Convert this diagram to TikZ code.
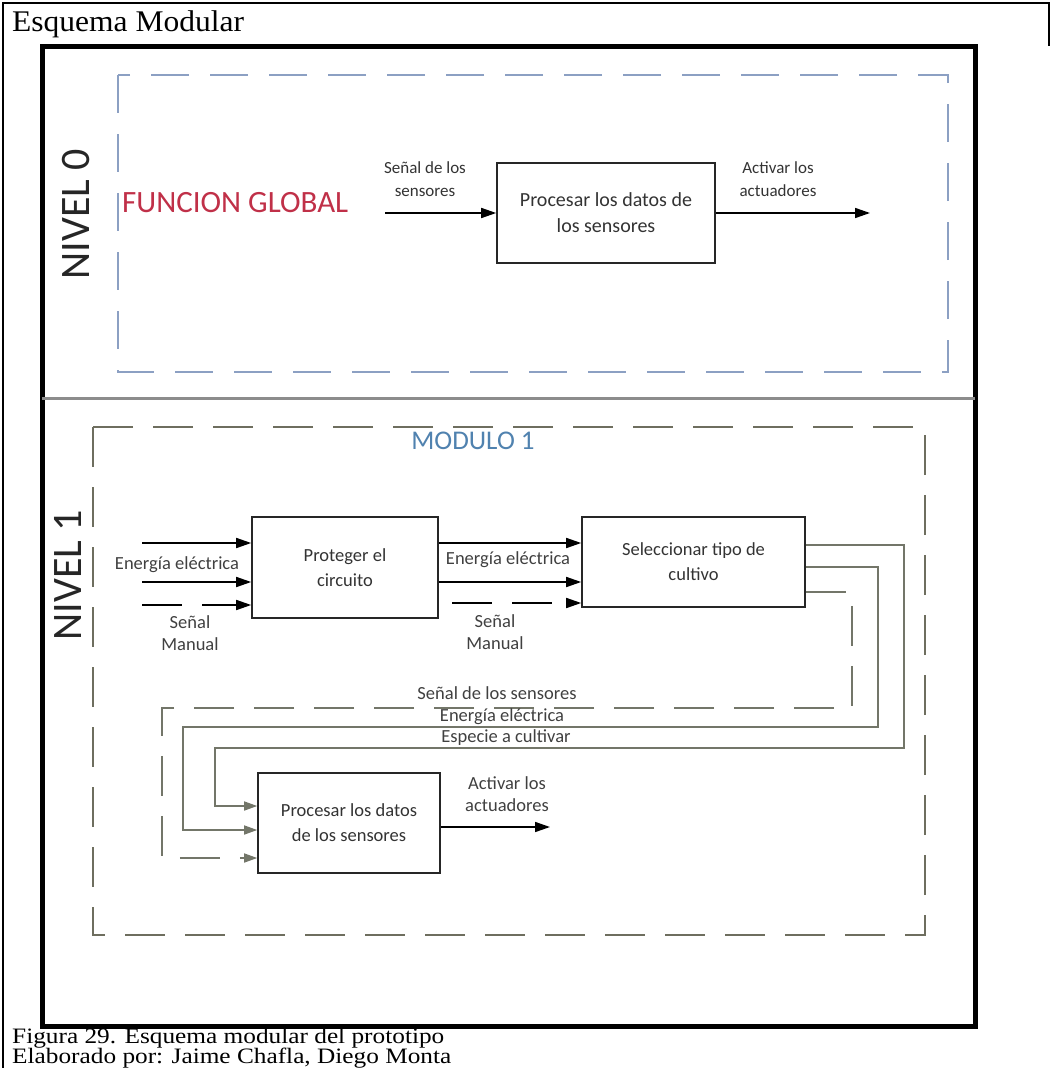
\documentclass[tikz,border=0pt]{standalone}
\usepackage{fontspec}
\setmainfont{Carlito}
\newfontfamily\titfont[FakeStretch=1.05]{Liberation Serif}
\newfontfamily\capfont[FakeStretch=1.15]{Liberation Serif}
\usetikzlibrary{arrows.meta}

\definecolor{azulgris}{RGB}{140,160,195}
\definecolor{olivo}{RGB}{110,110,95}
\definecolor{verdegris}{RGB}{115,118,105}
\definecolor{rojo}{RGB}{192,48,72}
\definecolor{azul}{RGB}{80,130,175}

\begin{document}
\begin{tikzpicture}[x=1pt,y=-1pt,
  bloque/.style={draw=black!85, line width=1.6pt, inner sep=0pt, align=center, font=\fontsize{18.5}{25}\selectfont, text=black!80},
  texto/.style={inner sep=0pt, align=center, font=\fontsize{18.5}{22}\selectfont, text=black!75},
  rotulo/.style={inner sep=0pt, align=center, font=\fontsize{17}{23}\selectfont, text=black!80},
  leyenda/.style={anchor=base west, inner sep=0pt, font=\capfont\fontsize{22}{22}\selectfont},
  nivel/.style={rotate=90, inner sep=0pt, font=\fontsize{42}{42}\selectfont, text=black!85},
  flecha/.style={line width=1.6pt, -{Triangle[length=15pt,width=10pt]}},
  entra/.style={draw=verdegris, line width=1.5pt, -{Triangle[length=13pt,width=9pt]}},
  guion/.style={dash pattern=on 40pt off 20pt}]

\useasboundingbox (0,0) rectangle (1052,1068);
\draw[line width=1.5pt] (3,1068) -- (3,3) -- (1049,3) -- (1049,46);
\node[anchor=base west, inner sep=0pt, font=\titfont\fontsize{30}{30}\selectfont] (titulo) at (12,31) {Esquema Modular};

\draw[line width=5pt] (42,46) rectangle (975,1026);
\draw[line width=3pt, black!45] (42,398) -- (975,398);

% nivel 0
\draw[azulgris, line width=2.5pt, dash pattern=on 38pt off 21pt] (118,75) rectangle (948,372);
\node[nivel] (n0) at (76,214) {NIVEL 0};
\node[anchor=west, inner sep=0pt, text=rojo, font=\fontsize{31}{31}\selectfont] (global) at (122,203) {FUNCION GLOBAL};
\node[bloque, minimum width=218pt, minimum height=100pt, font=\fontsize{20}{26}\selectfont] (p0) at (606,213) {Procesar los datos de\\los sensores};
\coordinate (e0) at (385,213);
\coordinate (s0) at (870,213);
\draw[flecha] (e0) -- (p0);
\draw[flecha] (p0) -- (s0);
\node[rotulo] (le0) at (425,179) {Señal de los\\sensores};
\node[rotulo] (ls0) at (778,179) {Activar los\\actuadores};

% nivel 1
\draw[olivo, line width=2.5pt, guion] (93,427) rectangle (925,935);
\node[nivel] (n1) at (68,575) {NIVEL 1};
\node[inner sep=0pt, text=azul, font=\fontsize{27}{27}\selectfont] (mod) at (473,441) {MODULO 1};

\node[bloque, minimum width=186pt, minimum height=101pt] (pa) at (345,567.5) {Proteger el\\circuito};
\node[bloque, minimum width=223pt, minimum height=90pt] (pb) at (693.5,562) {Seleccionar tipo de\\cultivo};
\node[bloque, minimum width=182pt, minimum height=100pt] (pc) at (349,823) {Procesar los datos\\de los sensores};

\coordinate (a1) at (142,543);
\coordinate (a2) at (142,582);
\coordinate (a3) at (142,605);
\draw[flecha] (a1) -- (a1 -| pa.west);
\draw[flecha] (a2) -- (a2 -| pa.west);
\draw[flecha, guion] (a3) -- (a3 -| pa.west);
\node[texto] (lea) at (177,565) {Energía eléctrica};
\node[texto] (lma) at (190,633) {Señal\\Manual};

\coordinate (b3) at (452,603);
\draw[flecha] (pa.east |- a1) -- (pb.west |- a1);
\draw[flecha] (pa.east |- a2) -- (pb.west |- a2);
\draw[flecha, guion] (b3) -- (b3 -| pb.west);
\node[texto] (leb) at (508,560) {Energía eléctrica};
\node[texto] (lmb) at (495,632) {Señal\\Manual};

\coordinate (u1) at (904,545);
\coordinate (u2) at (215,748);
\coordinate (u3) at (215,806);
\coordinate (m1) at (878,567);
\coordinate (m2) at (183,727);
\coordinate (m3) at (183,830);
\coordinate (d1) at (852,592);
\coordinate (d2) at (162,708);
\coordinate (d3) at (162,858);
\draw[entra] (pb.east |- u1) -- (u1) |- (u2) -- (u3) -- (u3 -| pc.west);
\draw[entra] (pb.east |- m1) -- (m1) |- (m2) -- (m3) -- (m3 -| pc.west);
\draw[entra, guion] (pb.east |- d1) -- (d1) |- (d2) -- (d3) -- (d3 -| pc.west);
\node[texto] (lss) at (497,693) {Señal de los sensores};
\node[texto] (lee) at (502,717) {Energía eléctrica};
\node[texto] (lec) at (506,738) {Especie a cultivar};

\coordinate (sc) at (550,827);
\draw[flecha] (pc.east |- sc) -- (sc);
\node[texto] (lsc) at (507,794) {Activar los\\actuadores};

\node[leyenda] (fig) at (12,1043) {Figura 29. Esquema modular del prototipo};
\node[leyenda] (elab) at (12,1063) {Elaborado por: Jaime Chafla, Diego Monta};
\end{tikzpicture}
\end{document}
